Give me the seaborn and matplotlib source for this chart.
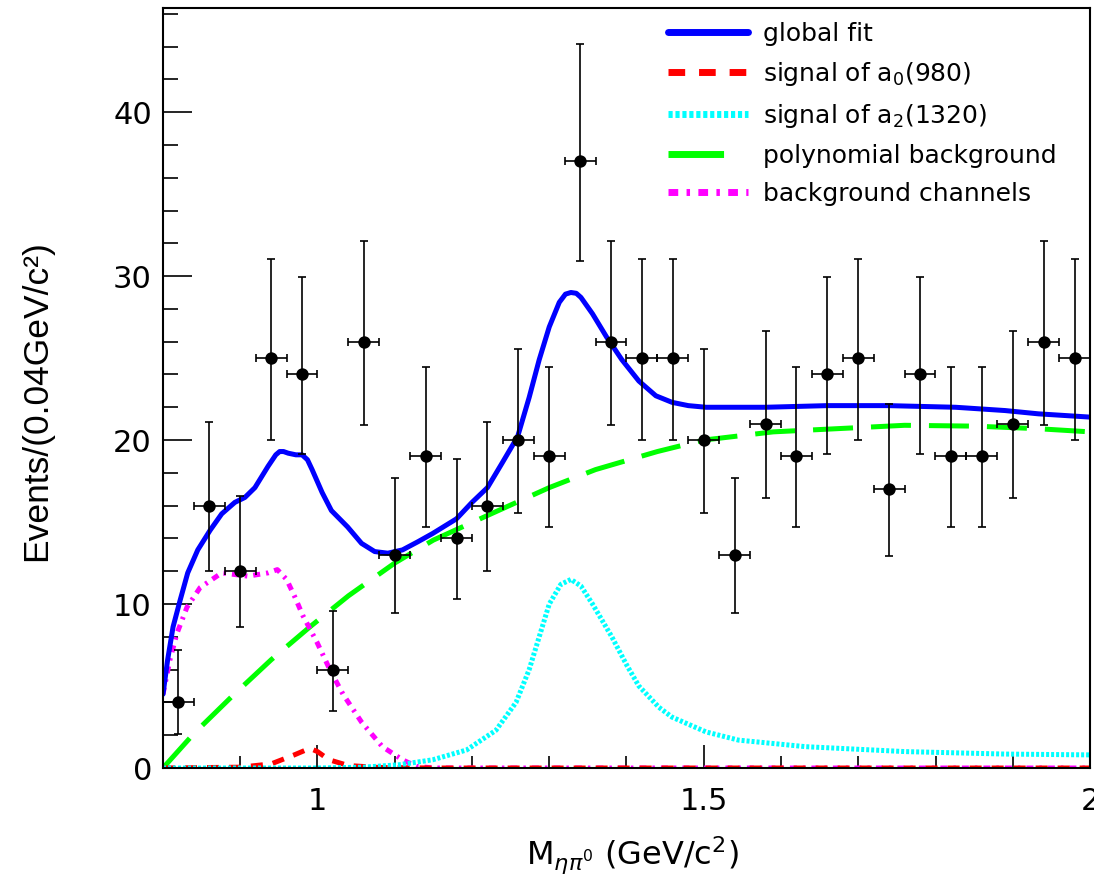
import numpy as np
import matplotlib
matplotlib.use("Agg")
import matplotlib.pyplot as plt
from matplotlib.ticker import FixedLocator, MultipleLocator, FuncFormatter
import seaborn as sns

# ---------------- data ----------------
bin_centers = [0.82, 0.86, 0.90, 0.94, 0.98, 1.02, 1.06, 1.10, 1.14, 1.18,
               1.22, 1.26, 1.30, 1.34, 1.38, 1.42, 1.46, 1.50, 1.54, 1.58,
               1.62, 1.66, 1.70, 1.74, 1.78, 1.82, 1.86, 1.90, 1.94, 1.98]
events = [4, 16, 12, 25, 24, 6, 26, 13, 19, 14,
          16, 20, 19, 37, 26, 25, 25, 20, 13, 21,
          19, 24, 25, 17, 24, 19, 19, 21, 26, 25]
err_low = [1.94, 3.97, 3.43, 4.97, 4.87, 2.50, 5.07, 3.57, 4.33, 3.71,
           3.97, 4.44, 4.33, 6.06, 5.07, 4.97, 4.97, 4.44, 3.57, 4.56,
           4.33, 4.87, 4.97, 4.09, 4.87, 4.33, 4.33, 4.56, 5.07, 4.97]
err_high = [3.18, 5.09, 4.57, 6.07, 5.97, 3.60, 6.17, 4.71, 5.44, 4.84,
            5.09, 5.56, 5.44, 7.14, 6.17, 6.07, 6.07, 5.56, 4.71, 5.67,
            5.44, 5.97, 6.07, 5.21, 5.97, 5.44, 5.44, 5.67, 6.17, 6.07]
bin_half_width = 0.02

fit_x = [0.800, 0.806, 0.813, 0.822, 0.832, 0.845, 0.861, 0.876, 0.893, 0.906,
         0.919, 0.936, 0.946, 0.951, 0.956, 0.962, 0.972, 0.980, 0.987, 0.993,
         1.006, 1.018, 1.039, 1.057, 1.074, 1.091, 1.110, 1.130, 1.149, 1.180,
         1.200, 1.220, 1.239, 1.259, 1.274, 1.287, 1.300, 1.313, 1.321, 1.328,
         1.335, 1.341, 1.356, 1.374, 1.394, 1.416, 1.438, 1.459, 1.480, 1.503,
         1.580, 1.660, 1.739, 1.826, 1.890, 1.933, 2.000]
fit_y = [4.5, 6.6, 8.6, 10.2, 11.9, 13.3, 14.5, 15.5, 16.2, 16.5,
         17.1, 18.4, 19.1, 19.3, 19.3, 19.2, 19.1, 19.1, 18.8, 18.2,
         16.8, 15.7, 14.7, 13.7, 13.2, 13.1, 13.3, 13.8, 14.3, 15.2,
         16.2, 17.1, 18.6, 20.2, 22.6, 24.9, 26.9, 28.4, 28.9, 29.0,
         28.95, 28.7, 27.7, 26.3, 24.9, 23.6, 22.7, 22.3, 22.1, 22.0,
         22.0, 22.1, 22.1, 22.0, 21.8, 21.6, 21.4]

a0_x = [0.80, 0.90, 0.94, 0.97, 0.99, 1.00, 1.015, 1.04, 1.08, 1.15, 2.00]
a0_y = [0.0, 0.05, 0.25, 0.8, 1.2, 1.0, 0.5, 0.15, 0.03, 0.0, 0.0]

a2_x = [0.80, 1.00, 1.06, 1.106, 1.149, 1.193, 1.231, 1.257, 1.274, 1.287,
        1.300, 1.315, 1.328, 1.341, 1.356, 1.381, 1.400, 1.416, 1.442, 1.459,
        1.503, 1.545, 1.632, 1.761, 1.890, 2.000]
a2_y = [0.0, 0.0, 0.05, 0.2, 0.5, 1.1, 2.3, 4.0, 6.0, 8.0,
        10.0, 11.2, 11.5, 11.1, 10.0, 8.0, 6.3, 5.0, 3.7, 3.1,
        2.2, 1.7, 1.3, 1.0, 0.85, 0.8]

poly_x = [0.80, 0.84, 0.89, 0.94, 0.99, 1.04, 1.10, 1.15, 1.22, 1.30,
          1.36, 1.44, 1.50, 1.59, 1.675, 1.76, 1.85, 1.93, 2.00]
poly_y = [0.0, 2.1, 4.4, 6.6, 8.6, 10.5, 12.5, 13.9, 15.4, 17.1,
          18.2, 19.3, 20.0, 20.5, 20.7, 20.9, 20.85, 20.7, 20.5]

bkg_x = [0.800, 0.809, 0.818, 0.831, 0.848, 0.876, 0.910, 0.936, 0.948, 0.960,
         0.971, 0.981, 0.990, 0.999, 1.016, 1.033, 1.057, 1.084, 1.110, 1.128,
         1.150, 2.000]
bkg_y = [4.5, 6.6, 8.2, 9.8, 11.0, 11.9, 11.7, 11.9, 12.1, 11.5,
         10.4, 9.3, 8.5, 7.7, 6.0, 4.5, 2.8, 1.3, 0.5, 0.1,
         0.0, 0.0]

labels = ["global fit", "signal of a$_{0}$(980)", "signal of a$_{2}$(1320)",
          "polynomial background", "background channels"]
x_ticks = [1.0, 1.5, 2.0]
y_ticks = [0, 10, 20, 30, 40]

# ---------------- style ----------------
sns.set_style("ticks")
plt.rcParams["font.family"] = ["DejaVu Sans"]
plt.rcParams["text.color"] = "black"
plt.rcParams["axes.labelcolor"] = "black"
plt.rcParams["xtick.color"] = "black"
plt.rcParams["ytick.color"] = "black"

fig = plt.figure(figsize=(10.94, 8.76), dpi=100)
ax = fig.add_axes([163 / 1094, 1 - 768 / 876, 927 / 1094, 760 / 876])

lw = 3.6
curves = [
    (fit_x, fit_y, "#0000ff", "-", labels[0]),
    (a0_x, a0_y, "#ff0000", (0, (2.4, 2.0)), labels[1]),
    (a2_x, a2_y, "#00ffff", (0, (0.6, 0.4)), labels[2]),
    (poly_x, poly_y, "#00ff00", (0, (8.0, 3.6)), labels[3]),
    (bkg_x, bkg_y, "#ff00ff", (0, (1.4, 1.2, 0.5, 1.2)), labels[4]),
]
draw_order = [3, 4, 1, 2, 0]
for i in draw_order:
    xs, ys, col, ls, lab = curves[i]
    sns.lineplot(x=xs, y=ys, ax=ax, color=col, linewidth=lw, linestyle=ls,
                 label=lab, sort=False, estimator=None, zorder=2.5,
                 legend=False)

ax.errorbar(bin_centers, events, yerr=[err_low, err_high], xerr=bin_half_width,
            fmt="none", ecolor="black", elinewidth=1.2, capsize=3.2,
            capthick=1.2, zorder=3)
sns.scatterplot(x=bin_centers, y=events, ax=ax, color="black", s=80,
                edgecolor="black", linewidth=0, zorder=4, legend=False)

ax.set_xlim(0.8, 2.0)
ax.set_ylim(0, 46.35)

for sp in ax.spines.values():
    sp.set_visible(True)
    sp.set_linewidth(1.5)
    sp.set_color("black")

ax.xaxis.set_major_locator(FixedLocator(x_ticks))
ax.xaxis.set_minor_locator(MultipleLocator(0.1))
ax.yaxis.set_major_locator(FixedLocator(y_ticks))
ax.yaxis.set_minor_locator(MultipleLocator(2))
ax.xaxis.set_major_formatter(FuncFormatter(lambda v, p: f"{v:g}"))
ax.yaxis.set_major_formatter(FuncFormatter(lambda v, p: f"{v:g}"))

ax.tick_params(axis="y", which="major", direction="in", length=21, width=1.2,
               labelsize=22, pad=8, left=True, right=False, colors="black")
ax.tick_params(axis="y", which="minor", direction="in", length=11, width=1.2,
               left=True, right=False, colors="black")
ax.tick_params(axis="x", which="major", direction="in", length=16.5, width=1.2,
               labelsize=22, pad=14, bottom=True, top=False, colors="black")
ax.tick_params(axis="x", which="minor", direction="in", length=8.6, width=1.2,
               bottom=True, top=False, colors="black")

ax.set_xlabel(r"M$_{\eta\pi^{0}}$ (GeV/c$^{2}$)", fontsize=23, color="black")
ax.xaxis.set_label_coords(0.506, -0.088)
ax.set_ylabel("Events/(0.04GeV/c²)", fontsize=25.5, color="black",
              family=["Liberation Sans Narrow", "Liberation Sans", "DejaVu Sans"])
ax.yaxis.set_label_coords(-0.118, 0.483)

handles = {ln.get_label(): ln for ln in ax.get_lines()}
hl = [handles[l] for l in labels]
leg = ax.legend(hl, labels, loc="upper left", bbox_to_anchor=(0.5448, 0.982),
                frameon=False, fontsize=18, handlelength=3.2,
                handletextpad=0.6, labelspacing=0.56, borderpad=0,
                borderaxespad=0)
for t in leg.get_texts():
    t.set_color("black")
for ln in leg.get_lines():
    ln.set_linewidth(5)

fig.savefig("out.png", dpi=100)
